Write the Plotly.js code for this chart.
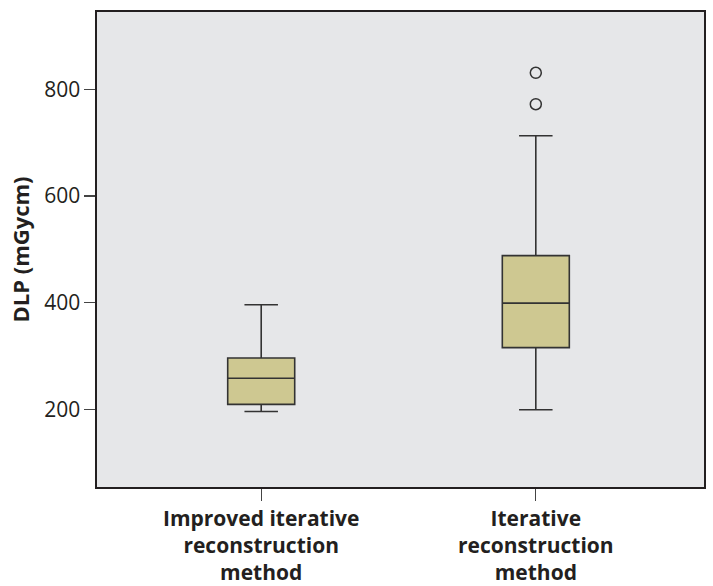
<!DOCTYPE html>
<html>
<head>
<meta charset="utf-8">
<script src="https://cdn.plot.ly/plotly-3.0.1.min.js"></script>
<style>html,body{margin:0;padding:0;background:#fff;}#chart{width:713px;height:586px;}</style>
</head>
<body>
<div id="chart"></div>
<script>
const categories = ['Improved iterative<br>reconstruction<br>method', 'Iterative<br>reconstruction<br>method'];
const q1 = [209, 315.5];
const median = [258, 399];
const q3 = [296, 488];
const lowerFence = [195.5, 199];
const upperFence = [396, 713];
const outlierCategory = [categories[1], categories[1]];
const outlierValues = [772, 831];
const yTicks = [200, 400, 600, 800];

const boxTrace = {
  type: 'box',
  x: categories,
  q1: q1,
  median: median,
  q3: q3,
  lowerfence: lowerFence,
  upperfence: upperFence,
  boxpoints: false,
  width: 0.244,
  whiskerwidth: 0.5,
  fillcolor: '#cec891',
  line: {color: '#333333', width: 1.6},
  hoverinfo: 'skip',
  showlegend: false
};

const outlierTrace = {
  type: 'scatter',
  mode: 'markers',
  x: outlierCategory,
  y: outlierValues,
  marker: {symbol: 'circle-open', size: 11, color: '#333333', line: {width: 1.5, color: '#333333'}},
  hoverinfo: 'skip',
  showlegend: false
};

const layout = {
  width: 713,
  height: 586,
  margin: {l: 97, r: 9, t: 12, b: 99},
  paper_bgcolor: '#ffffff',
  plot_bgcolor: '#e6e7e9',
  showlegend: false,
  font: {family: 'Open Sans, sans-serif', color: '#231f20'},
  xaxis: {
    type: 'category',
    range: [-0.598, 1.6125],
    showline: true, mirror: true, linecolor: '#231f20', linewidth: 1.6,
    ticks: 'outside', ticklen: 12, tickwidth: 1.3, tickcolor: '#444444',
    showgrid: false, zeroline: false,
    tickfont: {family: 'Open Sans, sans-serif', size: 21, weight: 700, color: '#231f20'}
  },
  yaxis: {
    range: [54, 945],
    tickvals: yTicks,
    ticktext: yTicks.map(String),
    showline: true, mirror: true, linecolor: '#231f20', linewidth: 1.6,
    ticks: 'outside', ticklen: 11, tickwidth: 1.3, tickcolor: '#444444',
    showgrid: false, zeroline: false,
    tickfont: {family: 'Open Sans, sans-serif', size: 21, color: '#231f20'},
    title: {text: 'DLP (mGycm)', font: {family: 'Open Sans, sans-serif', size: 22, weight: 700, color: '#231f20'}, standoff: 8}
  }
};

Plotly.newPlot('chart', [boxTrace, outlierTrace], layout, {displayModeBar: false, staticPlot: true});
</script>
</body>
</html>
